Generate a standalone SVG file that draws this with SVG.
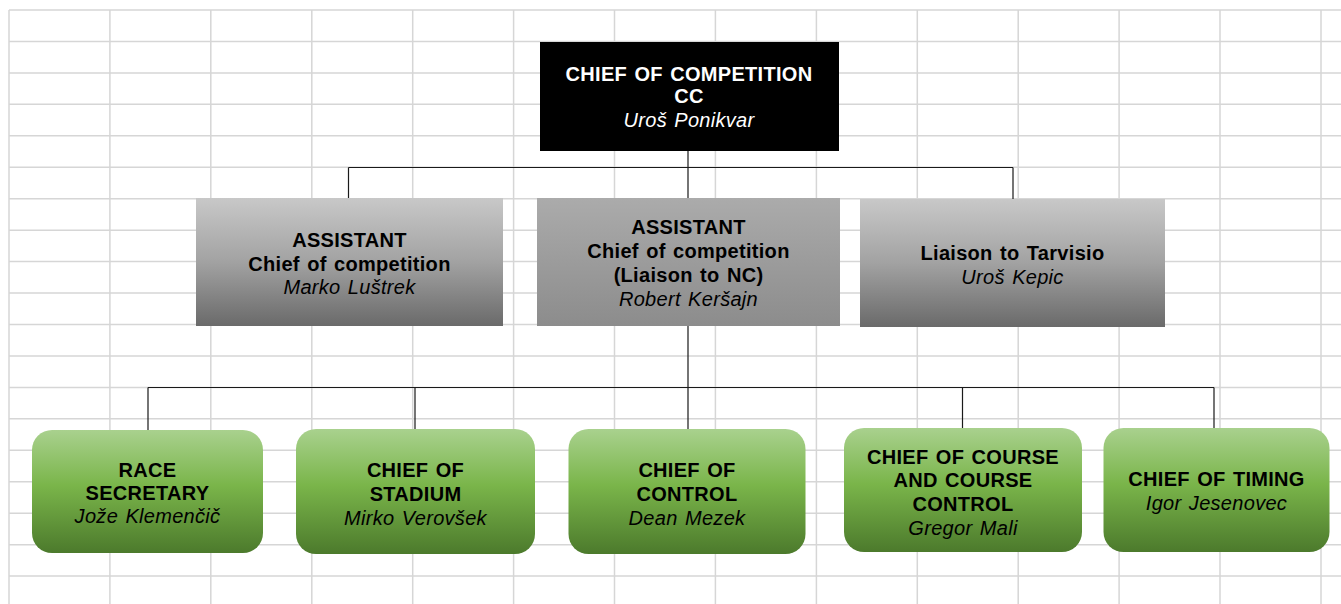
<svg xmlns="http://www.w3.org/2000/svg" width="1341" height="604" viewBox="0 0 1341 604">
<defs>
<linearGradient id="gGray" x1="0" y1="0" x2="0" y2="1">
<stop offset="0" stop-color="#c8c8c8"/>
<stop offset="0.5" stop-color="#a2a2a2"/>
<stop offset="1" stop-color="#6a6a6a"/>
</linearGradient>
<linearGradient id="gGray2" x1="0" y1="0" x2="0" y2="1">
<stop offset="0" stop-color="#ababab"/>
<stop offset="1" stop-color="#8c8c8c"/>
</linearGradient>
<linearGradient id="gGreen" x1="0" y1="0" x2="0" y2="1">
<stop offset="0" stop-color="#a9d18e"/>
<stop offset="0.45" stop-color="#7ab54a"/>
<stop offset="1" stop-color="#4c7a2c"/>
</linearGradient>
<style>
.grid{stroke:#d6d6d6;stroke-width:1.5;fill:none}
.conn{stroke:#1a1a1a;stroke-width:1.2;fill:none}
text{font-family:"Liberation Sans",Arial,sans-serif;font-size:20px;text-anchor:middle;fill:#000;letter-spacing:0.3px;word-spacing:1.5px}
.b{font-weight:bold}
.i{font-style:italic}
.w{fill:#fff}
.green{fill:url(#gGreen)}
</style>
</defs>
<rect width="1341" height="604" fill="#fff"/>
<g id="grid">
<path class="grid" d="M9 10V604M109.9 10V604M210.8 10V604M311.8 10V604M412.7 10V604M513.6 10V604M614.5 10V604M715.4 10V604M816.4 10V604M917.3 10V604M1018.2 10V604M1119.1 10V604M1220 10V604M1321 10V604
M9 10H1341M9 41.45H1341M9 72.9H1341M9 104.35H1341M9 135.8H1341M9 167.25H1341M9 198.7H1341M9 230.15H1341M9 261.6H1341M9 293.05H1341M9 324.5H1341M9 355.95H1341M9 387.4H1341M9 418.85H1341M9 450.3H1341M9 481.75H1341M9 513.2H1341M9 544.65H1341M9 576.1H1341"/>
</g>
<g id="connectors">
<path class="conn" d="M688 151V167.5M348.5 167.5H1013M348.5 167.5V198M688 167.5V198M1013 167.5V199"/>
<path class="conn" d="M688 326V387.5M148 387.5H1214M148 387.5V430M415 387.5V429M688 387.5V429M962.5 387.5V428M1214 387.5V428"/>
</g>
<g id="cc">
<rect x="540" y="42" width="299" height="109" fill="#000"/>
<text class="b w" x="689" y="81">CHIEF OF COMPETITION</text>
<text class="b w" x="689" y="103">CC</text>
<text class="i w" x="689" y="127">Uroš Ponikvar</text>
</g>
<g id="assistant1">
<rect x="196" y="198" width="307" height="128" fill="url(#gGray)"/>
<text class="b" x="349.5" y="247">ASSISTANT</text>
<text class="b" x="349.5" y="271">Chief of competition</text>
<text class="i" x="349.5" y="294">Marko Luštrek</text>
</g>
<g id="assistant2">
<rect x="537" y="198" width="303" height="128" fill="url(#gGray2)"/>
<text class="b" x="688.5" y="234">ASSISTANT</text>
<text class="b" x="688.5" y="258">Chief of competition</text>
<text class="b" x="688.5" y="282">(Liaison to NC)</text>
<text class="i" x="688.5" y="306">Robert Keršajn</text>
</g>
<g id="tarvisio">
<rect x="860" y="199" width="305" height="128" fill="url(#gGray)"/>
<text class="b" x="1012.5" y="260">Liaison to Tarvisio</text>
<text class="i" x="1012.5" y="283.5">Uroš Kepic</text>
</g>
<g id="secretary">
<rect class="green" x="32" y="430" width="231" height="123" rx="20"/>
<text class="b" x="147.5" y="477">RACE</text>
<text class="b" x="147.5" y="500">SECRETARY</text>
<text class="i" x="147.5" y="523">Jože Klemenčič</text>
</g>
<g id="stadium">
<rect class="green" x="296" y="429" width="239" height="125" rx="20"/>
<text class="b" x="415.5" y="477">CHIEF OF</text>
<text class="b" x="415.5" y="501">STADIUM</text>
<text class="i" x="415.5" y="525">Mirko Verovšek</text>
</g>
<g id="control">
<rect class="green" x="568.5" y="429" width="237" height="125" rx="20"/>
<text class="b" x="687" y="477">CHIEF OF</text>
<text class="b" x="687" y="501">CONTROL</text>
<text class="i" x="687" y="524.5">Dean Mezek</text>
</g>
<g id="course">
<rect class="green" x="844" y="428" width="238" height="124" rx="20"/>
<text class="b" x="963" y="464">CHIEF OF COURSE</text>
<text class="b" x="963" y="487">AND COURSE</text>
<text class="b" x="963" y="511">CONTROL</text>
<text class="i" x="963" y="535">Gregor Mali</text>
</g>
<g id="timing">
<rect class="green" x="1103.5" y="428" width="226" height="124" rx="20"/>
<text class="b" x="1216.5" y="486">CHIEF OF TIMING</text>
<text class="i" x="1216.5" y="510">Igor Jesenovec</text>
</g>
</svg>
